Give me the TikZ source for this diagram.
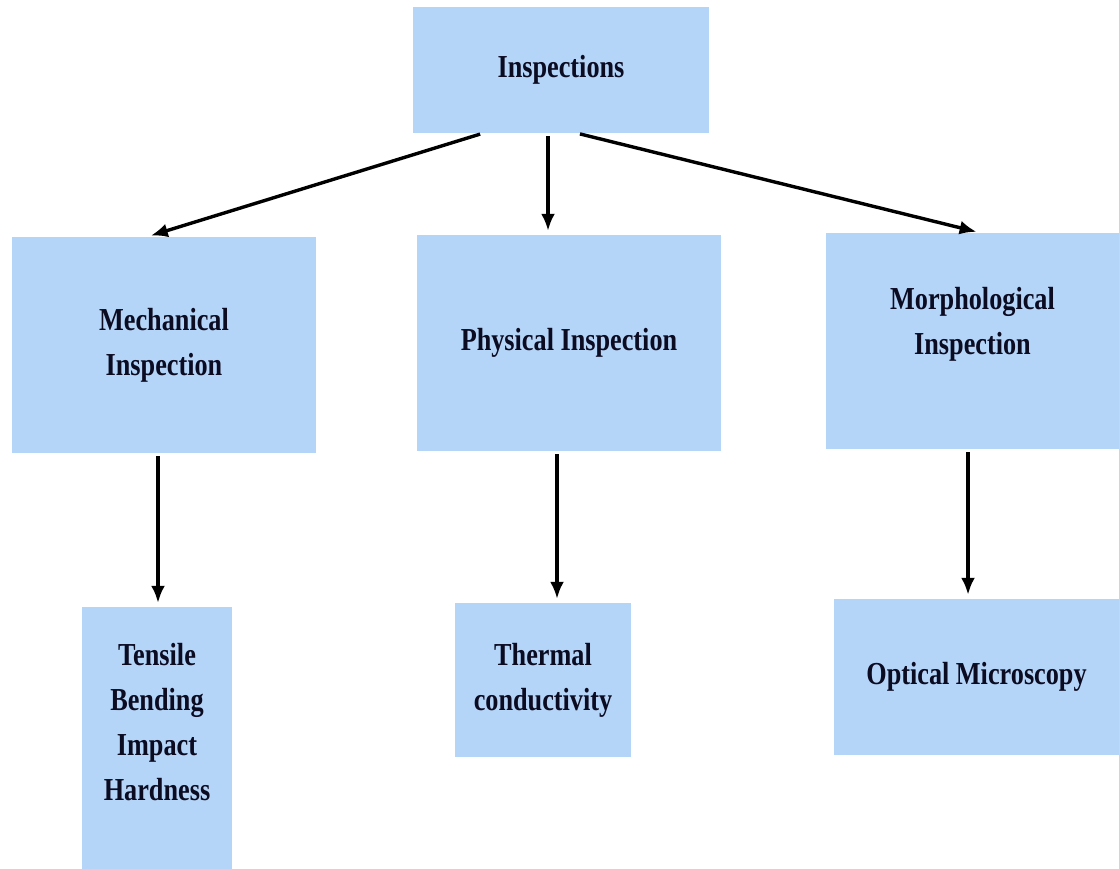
\documentclass[tikz,border=0pt]{standalone}
\usepackage{fontspec}
\setmainfont{Liberation Serif}[FakeStretch=0.82]
\usetikzlibrary{arrows.meta}
\definecolor{boxblue}{HTML}{B5D5F8}
\definecolor{ink}{HTML}{0B0B22}
\tikzset{box/.style={fill=boxblue, draw=none, align=center, inner sep=0pt, text=ink,
  font=\fontsize{32}{45}\selectfont\bfseries},
  link/.style={line width=3.4pt, -{Latex[length=17pt,width=14pt]}, shorten <=3pt, shorten >=4pt}}

\begin{document}
\begin{tikzpicture}[x=1pt, y=-1pt]
\useasboundingbox (0,0) rectangle (1119,869);
\node[box, minimum width=296pt, minimum height=126pt](a1) at (561,70){Inspections};
\node[box, minimum width=304pt, minimum height=216pt](b1) at (164,345){Mechanical\\Inspection};
\node[box, minimum width=304pt, minimum height=216pt](b2) at (569,343){Physical Inspection};
\node[box, minimum width=293pt, minimum height=216pt, text depth=40pt](b3) at (972.5,341){Morphological\\Inspection};
\node[box, minimum width=150pt, minimum height=262pt, text depth=32pt](c1) at (157,738){Tensile\\Bending\\Impact\\Hardness};
\node[box, minimum width=176pt, minimum height=154pt](c2) at (543,680){Thermal\\conductivity};
\node[box, minimum width=285pt, minimum height=156pt](c3) at (976.5,677){Optical Microscopy};
\draw[link] ([xshift=-78pt]a1.south) -- ([xshift=-17pt]b1.north);
\draw[link] ([xshift=-13pt]a1.south) -- ([xshift=-21pt]b2.north);
\draw[link] ([xshift=16pt]a1.south) -- ([xshift=8pt]b3.north);
\draw[link] ([xshift=-6pt]b1.south) -- ([xshift=1pt]c1.north);
\draw[link] ([xshift=-12pt]b2.south) -- ([xshift=14pt]c2.north);
\draw[link] ([xshift=-4.5pt]b3.south) -- ([xshift=-8.5pt]c3.north);
\end{tikzpicture}
\end{document}
